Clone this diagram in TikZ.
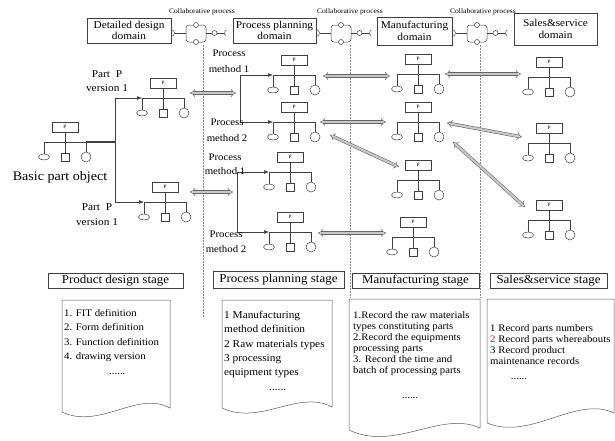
\documentclass[tikz,border=0pt]{standalone}
\usepackage{fontspec}
\setmainfont{Liberation Serif}[FakeStretch=1.08]
\usetikzlibrary{arrows.meta}
\tikzset{
 ln/.style={draw=black!75, line width=0.5pt},
 pbox/.style={ln, fill=white, minimum width=26pt, minimum height=10pt, inner sep=0pt, font=\fontsize{5}{5}\selectfont},
 ptree/.pic={
   \node[pbox] (-box) at (0,-15) {P};
   \draw[ln] (-box.south) -- (0,11);
   \draw[ln] (-21,0) -- (21,0);
   \draw[ln] (-21,0) -- (-21,12);
   \draw[ln] (21,0) -- (21,10);
   \draw[ln] (-21,15) ellipse[x radius=5.5, y radius=3];
   \draw[ln] (-4,11) rectangle (4,19);
   \draw[ln] (21,15) circle[radius=5];
   \coordinate (-l) at (-21,0);
   \coordinate (-r) at (21,0);
 },
 collab/.pic={
   \draw[ln] (0,-3.5) arc[start angle=-90,end angle=90,radius=3.5];
   \draw[ln] (3.5,0) -- (15,0);
   \draw[ln, rounded corners=3pt] (15,-8) rectangle (35,9);
   \draw[ln, fill=white] (25,-8) circle[radius=2.5];
   \draw[ln, fill=white] (25,9) circle[radius=2.5];
   \draw[ln] (35,0) -- (41,0);
   \draw[ln, fill=white] (43.5,0) circle[radius=2.5];
   \draw[ln] (46,0) -- (53.5,0);
   \draw[ln] (55.25,3.03) arc[start angle=120,end angle=240,radius=3.5];
 },
 hollow/.style={draw=black!60, double=black!22, double distance=2.2pt, line width=0.55pt, {Implies}-{Implies}},
 blk/.style={ln, line width=0.6pt, -{Latex[length=5pt,width=4pt]}},
 dom/.style={ln, align=center, inner sep=0pt, font=\fontsize{10.5}{11.5}\selectfont},
 stg/.style={ln, inner sep=0pt, minimum height=15pt, font=\fontsize{12}{13}\selectfont},
 lbl/.style={inner sep=0pt, align=center},
 dashln/.style={draw=black!45, line width=0.4pt, dash pattern=on 1.5pt off 1.5pt},
 doc/.style={draw=black!65, line width=0.5pt},
 lst/.style={anchor=north west, align=left, inner sep=0pt},
 clb/.style={inner sep=0pt, font=\fontsize{7}{8}\selectfont},
}
\begin{document}
\begin{tikzpicture}[x=1pt,y=-1pt]
\useasboundingbox (0,0) rectangle (615,440);
% dashed stage separators
\draw[dashln] (203,45) -- (203,318);
\draw[dashln] (350,45) -- (350,298);
\draw[dashln] (480,45) -- (480,298);
% domain boxes
\node[dom, minimum width=84pt, minimum height=25pt] (D1) at (129,30.5) {Detailed design\\domain};
\node[dom, minimum width=83pt, minimum height=25pt] (D2) at (274.5,30.5) {Process planning\\domain};
\node[dom, minimum width=75pt, minimum height=28pt] (D3) at (414.5,31) {Manufacturing\\domain};
\node[dom, minimum width=83pt, minimum height=32pt] (D4) at (555.5,29) {Sales\&service\\domain};
\pic at (171,33) {collab};
\pic at (316,33) {collab};
\pic at (452,33) {collab};
\node[clb] (c1) at (202,12) {Collaborative process};
\node[clb] (c2) at (350,12) {Collaborative process};
\node[clb] (c3) at (483,12) {Collaborative process};
% part trees
\pic (B) at (65,142) {ptree};
\pic (V1) at (163,98) {ptree};
\pic (V2) at (165,202) {ptree};
\pic (PP1) at (294,75) {ptree};
\pic (PP2) at (294,122) {ptree};
\pic (PP3) at (290,172) {ptree};
\pic (PP4) at (290,232) {ptree};
\pic (M1) at (418,74) {ptree};
\pic (M2) at (418,122) {ptree};
\pic (M3) at (418,180) {ptree};
\pic (M4) at (413,237) {ptree};
\pic (S1) at (549,77) {ptree};
\pic (S2) at (549,143) {ptree};
\pic (S3) at (549,220) {ptree};
% branching from basic part
\coordinate (Bj) at (115,142);
\coordinate (Bt) at (115,98);
\coordinate (Bb) at (115,202);
\draw[draw=black!75, line width=1.8pt] (B-r) -- (Bj);
\draw[ln, line width=0.9pt] (Bt) -- (Bb);
\draw[blk] (Bt) -- (V1-l);
\draw[blk] (Bb) -- (V2-l);
% process planning branches
\coordinate (Pt) at (240,75);
\coordinate (Pb) at (240,122);
\coordinate (Qt) at (237,172);
\coordinate (Qb) at (237,232);
\draw[ln, line width=0.8pt] (Pt) -- (Pb);
\draw[ln, line width=0.8pt] (Qt) -- (Qb);
\draw[blk] (Pt) -- (PP1-l);
\draw[blk] (Pb) -- (PP2-l);
\draw[blk] (Qt) -- (PP3-l);
\draw[blk] (Qb) -- (PP4-l);
% hollow double arrows
\coordinate (h1a) at (190,93);  \coordinate (h1b) at (236,93);
\coordinate (h2a) at (190,192); \coordinate (h2b) at (233,192);
\coordinate (h3a) at (323,76);  \coordinate (h3b) at (390,76);
\coordinate (h4a) at (445,74);  \coordinate (h4b) at (521,74);
\coordinate (h5a) at (320,122); \coordinate (h5b) at (386,122);
\coordinate (h6a) at (330,135); \coordinate (h6b) at (399,167);
\coordinate (h7a) at (447,123); \coordinate (h7b) at (522,137);
\coordinate (h8a) at (453,142); \coordinate (h8b) at (525,207);
\coordinate (h9a) at (318,233); \coordinate (h9b) at (386,233);
\foreach \i in {1,...,9} {\draw[hollow] (h\i a) -- (h\i b);}
% labels
\node[lbl, font=\fontsize{13}{14}\selectfont] (bpo) at (60,177) {Basic part object};
\node[lbl, font=\fontsize{10.5}{14}\selectfont] (pv1) at (107,81) {Part~~P\\version 1};
\node[lbl, font=\fontsize{10.5}{15}\selectfont] (pv2) at (97,215) {Part~~P\\version 1};
\node[lbl, font=\fontsize{10}{16}\selectfont] (pm1) at (229,61) {Process\\method 1};
\node[lbl, font=\fontsize{10}{16}\selectfont] (pm2) at (227,130) {Process\\method 2};
\node[lbl, font=\fontsize{10}{14}\selectfont] (pm3) at (225,164) {Process\\method 1};
\node[lbl, font=\fontsize{10}{15}\selectfont] (pm4) at (226,242) {Process\\method 2};
% stage labels
\node[stg, minimum width=135pt] (st1) at (115.5,280.5) {Product design stage};
\node[stg, minimum width=131pt, minimum height=17pt] (st2) at (278.5,279.5) {Process planning stage};
\node[stg, minimum width=127pt] (st3) at (415.5,280.5) {Manufacturing stage};
\node[stg, minimum width=117pt] (st4) at (548.5,280.5) {Sales\&service stage};
% documents
\draw[doc] (62,300) -- (170,300) -- (170,408) .. controls (137.6,390) and (99.8,430) .. (62,412) -- cycle;
\draw[doc] (222,300) -- (332,300) -- (332,407) .. controls (299,389) and (260.5,426) .. (222,408) -- cycle;
\draw[doc] (349,299) -- (480,299) -- (480,428) .. controls (440.7,410) and (394.9,452) .. (349,430) -- cycle;
\draw[doc] (487,299) -- (614,299) -- (614,413) .. controls (576,395) and (531,441) .. (487,423) -- cycle;
\node[lst, font=\fontsize{10}{14.5}\selectfont] (l1) at (64,309) {1. FIT definition\\2. Form definition\\3. Function definition\\4. drawing version\\\hspace*{45pt}......};
\node[lst, font=\fontsize{10.5}{14.3}\selectfont] (l2) at (224,311) {1 Manufacturing\\method definition\\2 Raw materials types\\3 processing\\equipment types\\\hspace*{45pt}......};
\node[lst, font=\fontsize{10}{11}\selectfont] (l3) at (353,311) {1.Record the raw materials\\types constituting parts\\2.Record the equipments\\processing parts\\3. Record the time and\\batch of processing parts};
\node[lbl, font=\fontsize{10}{11}\selectfont] (d3) at (410,398) {......};
\node[lst, font=\fontsize{10}{11}\selectfont] (l4) at (490,324) {1 Record parts numbers\\{\color{red}2} Record parts whereabouts\\3 Record product\\maintenance records};
\node[lbl, font=\fontsize{10}{11}\selectfont] (d4) at (519,379) {......};
\end{tikzpicture}
\end{document}
